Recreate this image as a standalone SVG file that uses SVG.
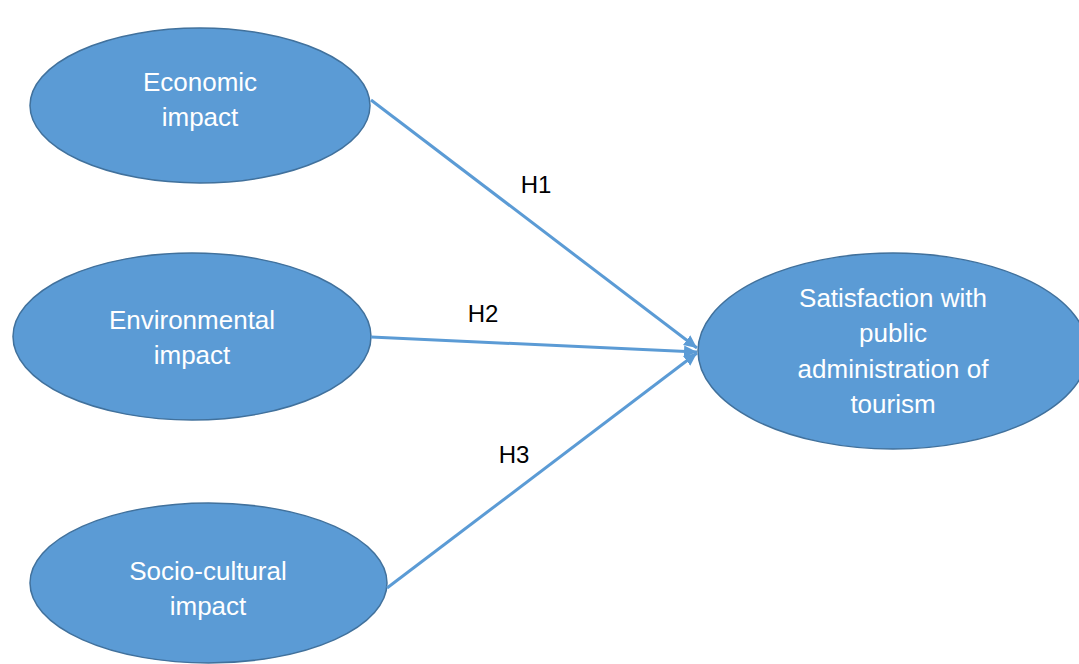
<svg xmlns="http://www.w3.org/2000/svg" width="1079" height="664" viewBox="0 0 1079 664">
<style>
.node{fill:#5B9BD5;stroke:#41719C;stroke-width:1.5}
.nt{font-family:"Liberation Sans",Arial,sans-serif;font-size:26px;fill:#FFFFFF;text-anchor:middle}
.edge{stroke:#5B9BD5;stroke-width:3;fill:none}
.lbl{font-family:"Liberation Sans",Arial,sans-serif;font-size:24px;fill:#000000;text-anchor:middle}
</style>
<defs>
<marker id="arr" markerUnits="userSpaceOnUse" markerWidth="14" markerHeight="14" viewBox="0 0 14 14" refX="13" refY="7" orient="auto">
<path d="M0,1 L13,7 L0,13 Z" fill="#5B9BD5"/>
</marker>
</defs>
<rect width="1079" height="664" fill="#FFFFFF"/>
<g id="n-economic">
<ellipse class="node" cx="200" cy="105.5" rx="170" ry="77.5"/>
<text class="nt" x="200" y="91">Economic</text>
<text class="nt" x="200" y="126">impact</text>
</g>
<g id="n-environmental">
<ellipse class="node" cx="192" cy="336.5" rx="179" ry="83.5"/>
<text class="nt" x="192" y="329">Environmental</text>
<text class="nt" x="192" y="364">impact</text>
</g>
<g id="n-sociocultural">
<ellipse class="node" cx="208.5" cy="583" rx="178.5" ry="80"/>
<text class="nt" x="208" y="580">Socio-cultural</text>
<text class="nt" x="208" y="615">impact</text>
</g>
<g id="n-satisfaction">
<ellipse class="node" cx="893" cy="351" rx="195" ry="98"/>
<text class="nt" x="893" y="307">Satisfaction with</text>
<text class="nt" x="893" y="342">public</text>
<text class="nt" x="893" y="378">administration of</text>
<text class="nt" x="893" y="413">tourism</text>
</g>
<g id="connectors">
<line class="edge" x1="371" y1="100" x2="697" y2="348" marker-end="url(#arr)"/>
<line class="edge" x1="371" y1="337" x2="697" y2="352" marker-end="url(#arr)"/>
<line class="edge" x1="387" y1="588" x2="697" y2="353" marker-end="url(#arr)"/>
<text class="lbl" x="536" y="193">H1</text>
<text class="lbl" x="483" y="322">H2</text>
<text class="lbl" x="514" y="463">H3</text>
</g>
</svg>
